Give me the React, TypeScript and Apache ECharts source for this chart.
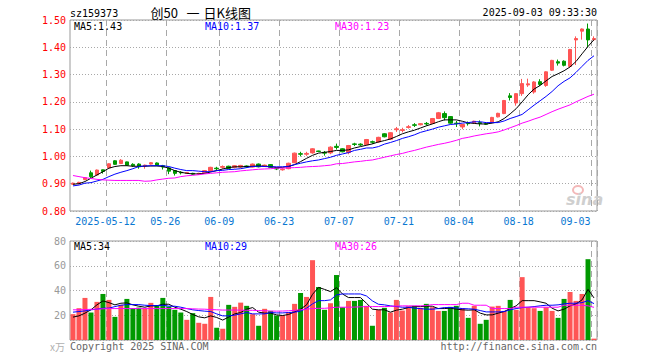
import React, { useEffect, useRef } from "react";
import * as echarts from "echarts";

const dates: string[] = [
  "2025-04-29","2025-04-30","2025-05-06","2025-05-07","2025-05-08","2025-05-09","2025-05-12","2025-05-13","2025-05-14","2025-05-15",
  "2025-05-16","2025-05-19","2025-05-20","2025-05-21","2025-05-22","2025-05-23","2025-05-26","2025-05-27","2025-05-28","2025-05-29",
  "2025-05-30","2025-06-03","2025-06-04","2025-06-05","2025-06-06","2025-06-09","2025-06-10","2025-06-11","2025-06-12","2025-06-13",
  "2025-06-16","2025-06-17","2025-06-18","2025-06-19","2025-06-20","2025-06-23","2025-06-24","2025-06-25","2025-06-26","2025-06-27",
  "2025-06-30","2025-07-01","2025-07-02","2025-07-03","2025-07-04","2025-07-07","2025-07-08","2025-07-09","2025-07-10","2025-07-11",
  "2025-07-14","2025-07-15","2025-07-16","2025-07-17","2025-07-18","2025-07-21","2025-07-22","2025-07-23","2025-07-24","2025-07-25",
  "2025-07-28","2025-07-29","2025-07-30","2025-07-31","2025-08-01","2025-08-04","2025-08-05","2025-08-06","2025-08-07","2025-08-08",
  "2025-08-11","2025-08-12","2025-08-13","2025-08-14","2025-08-15","2025-08-18","2025-08-19","2025-08-20","2025-08-21","2025-08-22",
  "2025-08-25","2025-08-26","2025-08-27","2025-08-28","2025-08-29","2025-09-01","2025-09-02","2025-09-03",
];

const openP: number[] = [
  0.898,0.900,0.915,0.940,0.932,0.951,0.958,0.984,0.974,0.980,
  0.971,0.972,0.965,0.972,0.976,0.966,0.958,0.948,0.942,0.938,
  0.938,0.935,0.940,0.947,0.957,0.960,0.964,0.960,0.961,0.965,
  0.961,0.972,0.964,0.970,0.956,0.951,0.955,0.977,1.010,1.008,
  1.013,1.020,1.015,1.013,1.037,1.028,1.014,1.046,1.045,1.043,
  1.054,1.053,1.083,1.063,1.098,1.095,1.106,1.116,1.116,1.121,
  1.121,1.139,1.157,1.146,1.122,1.108,1.122,1.123,1.124,1.120,
  1.125,1.145,1.157,1.222,1.196,1.230,1.262,1.236,1.274,1.260,
  1.316,1.347,1.349,1.330,1.427,1.459,1.467,1.428,
];
const closeP: number[] = [
  0.902,0.905,0.922,0.926,0.950,0.945,0.973,0.971,0.986,0.968,
  0.966,0.962,0.968,0.977,0.967,0.961,0.946,0.938,0.940,0.941,
  0.935,0.938,0.948,0.960,0.955,0.963,0.956,0.966,0.967,0.962,
  0.972,0.962,0.968,0.960,0.954,0.953,0.975,1.012,1.008,1.011,
  1.028,1.018,1.012,1.034,1.033,1.017,1.040,1.044,1.042,1.062,
  1.052,1.070,1.072,1.087,1.101,1.098,1.109,1.114,1.120,1.119,
  1.139,1.160,1.142,1.122,1.120,1.117,1.120,1.129,1.121,1.118,
  1.143,1.158,1.205,1.216,1.230,1.267,1.266,1.273,1.264,1.310,
  1.352,1.342,1.334,1.392,1.432,1.467,1.427,1.432,
];
const lowP: number[] = [
  0.896,0.898,0.913,0.918,0.930,0.937,0.955,0.969,0.972,0.966,
  0.962,0.955,0.955,0.970,0.965,0.952,0.935,0.930,0.934,0.936,
  0.932,0.933,0.938,0.945,0.948,0.955,0.954,0.956,0.958,0.958,
  0.959,0.960,0.962,0.958,0.950,0.948,0.953,0.975,1.000,1.002,
  1.010,1.016,1.003,1.008,1.025,1.015,1.008,1.038,1.038,1.040,
  1.046,1.050,1.070,1.060,1.090,1.088,1.102,1.108,1.114,1.113,
  1.119,1.137,1.132,1.120,1.108,1.100,1.113,1.121,1.110,1.116,
  1.123,1.143,1.155,1.205,1.186,1.222,1.255,1.230,1.258,1.255,
  1.313,1.333,1.330,1.326,1.335,1.428,1.400,1.423,
];
const highP: number[] = [
  0.904,0.907,0.924,0.948,0.952,0.952,0.975,0.986,0.990,0.981,
  0.975,0.975,0.970,0.979,0.978,0.969,0.960,0.950,0.946,0.943,
  0.940,0.940,0.950,0.962,0.962,0.967,0.966,0.968,0.969,0.967,
  0.974,0.974,0.970,0.972,0.960,0.957,0.977,1.014,1.017,1.017,
  1.030,1.021,1.020,1.037,1.047,1.030,1.042,1.050,1.048,1.064,
  1.058,1.072,1.085,1.089,1.108,1.105,1.115,1.122,1.122,1.126,
  1.141,1.163,1.165,1.148,1.130,1.119,1.128,1.131,1.132,1.122,
  1.145,1.160,1.207,1.232,1.232,1.284,1.285,1.276,1.283,1.312,
  1.354,1.355,1.352,1.394,1.440,1.469,1.487,1.440,
];

const priceMA5: number[] = [
  0.898,0.900,0.908,0.920,0.932,0.944,0.957,0.963,0.966,0.966,
  0.964,0.964,0.964,0.965,0.965,0.963,0.957,0.948,0.942,0.938,
  0.936,0.936,0.938,0.943,0.948,0.954,0.959,0.962,0.962,0.963,
  0.964,0.965,0.964,0.963,0.959,0.960,0.963,0.970,0.981,0.993,
  1.004,1.012,1.015,1.018,1.022,1.022,1.024,1.031,1.036,1.041,
  1.046,1.053,1.058,1.064,1.073,1.083,1.090,1.096,1.104,1.112,
  1.119,1.127,1.134,1.134,1.134,1.129,1.123,1.121,1.119,1.119,
  1.122,1.127,1.139,1.156,1.175,1.200,1.226,1.247,1.260,1.277,
  1.293,1.303,1.314,1.328,1.348,1.376,1.403,1.428,
];
const priceMA10: number[] = [
  0.892,0.895,0.902,0.904,0.910,0.916,0.926,0.935,0.942,0.948,
  0.955,0.963,0.965,0.966,0.966,0.966,0.963,0.957,0.952,0.948,
  0.948,0.946,0.944,0.944,0.948,0.949,0.952,0.953,0.955,0.959,
  0.963,0.964,0.963,0.962,0.962,0.962,0.964,0.970,0.975,0.980,
  0.984,0.987,0.992,0.997,1.004,1.009,1.014,1.022,1.026,1.031,
  1.031,1.036,1.045,1.051,1.058,1.066,1.072,1.079,1.088,1.094,
  1.100,1.107,1.112,1.117,1.119,1.122,1.124,1.127,1.127,1.124,
  1.124,1.124,1.130,1.139,1.146,1.154,1.171,1.188,1.204,1.220,
  1.238,1.259,1.275,1.288,1.308,1.330,1.352,1.369,
];
const priceMA30: number[] = [
  0.930,0.926,0.922,0.919,0.916,0.914,0.913,0.912,0.912,0.912,
  0.912,0.912,0.909,0.910,0.914,0.917,0.920,0.921,0.926,0.929,
  0.931,0.933,0.936,0.938,0.940,0.942,0.943,0.944,0.947,0.949,
  0.951,0.953,0.954,0.955,0.957,0.957,0.958,0.959,0.960,0.962,
  0.963,0.964,0.966,0.968,0.973,0.974,0.977,0.980,0.982,0.985,
  0.987,0.992,0.997,1.002,1.007,1.011,1.017,1.022,1.028,1.034,
  1.039,1.044,1.048,1.053,1.059,1.066,1.070,1.075,1.079,1.083,
  1.086,1.090,1.097,1.105,1.113,1.122,1.129,1.137,1.144,1.154,
  1.164,1.173,1.181,1.189,1.200,1.210,1.220,1.228,
];

const volume: number[] = [
  20.9,25.7,34.0,22.2,30.8,37.2,32.4,18.7,28.4,33.2,
  25.7,26.2,25.2,30.0,28.1,34.0,27.0,24.4,22.2,16.3,
  21.7,13.9,13.1,34.8,9.9,9.1,28.4,26.8,30.2,27.6,
  20.9,11.5,25.2,23.5,19.8,20.1,22.5,29.2,38.0,34.8,
  64.5,42.8,24.4,29.7,52.5,26.5,31.6,31.6,32.4,27.6,
  11.5,24.4,26.0,22.2,32.4,23.8,27.3,27.6,26.0,29.2,
  26.5,23.5,23.5,26.8,27.6,25.7,17.9,27.6,13.1,16.3,
  27.0,27.6,23.5,32.4,24.4,50.8,26.5,25.7,23.5,26.5,
  23.5,17.9,33.2,38.8,31.6,37.2,65.3,1.1,
];
const volMA5: number[] = [
  18.5,19.5,21.7,24.4,28.4,31.6,30.2,28.4,29.7,30.0,
  28.4,27.3,26.5,27.6,27.6,28.9,28.9,26.5,24.9,23.0,
  20.6,18.7,17.9,19.5,18.2,16.1,18.5,21.1,22.2,24.9,
  26.2,22.5,21.7,21.7,20.3,19.8,20.6,22.7,24.9,28.4,
  36.9,42.5,40.9,39.1,42.3,37.2,34.3,34.3,34.3,29.7,
  24.9,24.4,24.4,22.5,24.1,24.9,26.2,27.0,27.0,27.3,
  27.3,25.4,25.4,25.7,24.9,24.4,24.1,24.4,21.7,20.3,
  20.3,21.7,23.0,25.4,27.6,31.8,31.8,31.8,30.8,29.7,
  25.7,23.5,24.9,27.6,29.2,32.4,40.9,34.0,
];
const volMA10: number[] = [
  22.5,23.0,23.5,24.4,24.9,25.7,25.7,27.0,28.1,28.6,
  28.6,28.6,28.1,27.8,27.8,28.1,27.3,27.3,26.5,25.4,
  24.4,23.8,23.3,23.0,21.1,19.5,19.5,20.1,21.1,22.2,
  21.1,21.1,21.1,22.2,21.9,21.9,22.2,22.5,23.3,25.7,
  29.2,31.8,31.8,32.4,36.4,37.2,37.2,37.2,37.2,35.6,
  31.6,28.9,28.4,27.6,27.0,26.5,26.5,25.7,25.4,24.9,
  24.9,25.4,26.2,26.2,26.0,25.4,25.2,24.9,23.8,22.7,
  22.7,22.7,23.0,24.4,25.4,26.2,26.5,27.0,27.6,28.1,
  28.1,28.4,29.2,29.7,29.7,30.2,31.8,29.4,
];
const volMA30: number[] = [
  24.4,24.4,24.6,24.8,24.9,25.2,25.4,25.4,25.4,25.4,
  25.4,25.4,25.4,25.4,25.4,25.4,25.4,25.4,25.4,25.4,
  25.2,25.0,24.9,24.6,24.4,24.2,24.2,24.2,24.1,24.0,
  24.0,23.8,23.6,23.4,23.3,23.4,23.6,24.0,24.4,24.9,
  25.4,25.6,25.6,26.0,26.5,26.5,26.5,26.6,26.8,27.0,
  27.0,27.0,27.0,27.2,27.4,27.6,27.6,27.6,27.6,27.8,
  28.6,28.6,28.6,28.6,28.6,29.7,29.7,28.1,28.1,28.1,
  25.4,25.4,25.4,25.4,26.5,26.5,26.5,26.5,26.5,26.5,
  26.5,26.5,28.1,28.1,28.1,28.1,27.6,26.4,
];

const tickDates: string[] = [
  "2025-05-12","2025-05-26","2025-06-09","2025-06-23","2025-07-07",
  "2025-07-21","2025-08-04","2025-08-18","2025-09-03",
];

const MONO = '"DejaVu Sans Mono", "Liberation Mono", monospace';
const CJK = '"Noto Sans CJK SC", sans-serif';
const RED = "#ff5555";
const GREEN = "#009900";
const GRID_LINE = "#a8a8a8";

export default function App() {
  const ref = useRef<HTMLDivElement>(null);

  useEffect(() => {
    document.body.style.margin = "0";
    if (!ref.current) return;
    const chart = echarts.init(ref.current, undefined, { renderer: "svg" });

    const tickIdx = new Set(tickDates.map((d) => dates.indexOf(d)));
    const lastTick = dates.indexOf(tickDates[tickDates.length - 1]);
    const firstTick = dates.indexOf(tickDates[0]);

    const candleData = dates.map((_, i) => [openP[i], closeP[i], lowP[i], highP[i]]);
    const volData = volume.map((v, i) => ({
      value: v,
      itemStyle: { color: closeP[i] >= openP[i] ? RED : GREEN },
    }));

    const splitV = {
      show: true,
      interval: (index: number) => tickIdx.has(index),
      lineStyle: { color: GRID_LINE, type: [6, 4], width: 1 },
    };
    const splitH = {
      show: true,
      lineStyle: { color: GRID_LINE, type: [1, 2], width: 1 },
    };

    const lineS = (name: string, data: number[], color: string, axis: number) => ({
      name,
      type: "line",
      xAxisIndex: axis,
      yAxisIndex: axis,
      data,
      symbol: "none",
      silent: true,
      lineStyle: { color, width: 1 },
    });

    const txt = (text: string, x: number, y: number, fill: string, extra: any = {}) => ({
      type: "text",
      x,
      y,
      silent: true,
      style: {
        text,
        fill,
        font: `10px ${MONO}`,
        align: "left",
        verticalAlign: "middle",
        ...extra,
      },
    });

    const lastPM5 = priceMA5[priceMA5.length - 1].toFixed(2);
    const lastPM10 = priceMA10[priceMA10.length - 1].toFixed(2);
    const lastPM30 = priceMA30[priceMA30.length - 1].toFixed(2);
    const lastVM5 = Math.floor(volMA5[volMA5.length - 1]);
    const lastVM10 = Math.floor(volMA10[volMA10.length - 1]);
    const lastVM30 = Math.floor(volMA30[volMA30.length - 1]);

    chart.setOption({
      animation: false,
      backgroundColor: "#ffffff",
      grid: [
        { left: 70, top: 20, width: 527, height: 191, show: true, borderColor: "#999", borderWidth: 1, backgroundColor: "transparent" },
        { left: 70, top: 241, width: 527, height: 99, show: true, borderColor: "#999", borderWidth: 1, backgroundColor: "transparent" },
      ],
      xAxis: [
        {
          type: "category",
          gridIndex: 0,
          data: dates,
          boundaryGap: true,
          axisLine: { show: false },
          axisTick: { show: false },
          splitLine: splitV,
          axisLabel: {
            interval: (index: number) => tickIdx.has(index),
            margin: 5,
            color: "#0a78d2",
            fontSize: 10,
            fontFamily: MONO,
            formatter: (v: string) => {
              const i = dates.indexOf(v);
              const t = i === firstTick ? v : v.slice(5);
              return i === lastTick ? `{b|${t}}` : `{a|${t}}`;
            },
            rich: {
              a: { color: "#0a78d2", fontSize: 10, fontFamily: MONO, padding: [0, 7, 0, 0] },
              b: { color: "#0a78d2", fontSize: 10, fontFamily: MONO, padding: [0, 37, 0, 0] },
            },
          },
        },
        {
          type: "category",
          gridIndex: 1,
          data: dates,
          boundaryGap: true,
          axisLine: { show: false },
          axisTick: { show: false },
          axisLabel: { show: false },
          splitLine: splitV,
        },
      ],
      yAxis: [
        {
          type: "value",
          gridIndex: 0,
          min: 0.8,
          max: 1.5,
          interval: 0.1,
          axisLine: { show: false },
          axisTick: { show: false },
          splitLine: splitH,
          axisLabel: {
            color: "#ff0000",
            fontSize: 10,
            fontFamily: MONO,
            margin: 4,
            formatter: (v: number) => v.toFixed(2),
          },
        },
        {
          type: "value",
          gridIndex: 1,
          min: 0,
          max: 80,
          interval: 20,
          axisLine: { show: false },
          axisTick: { show: false },
          splitLine: splitH,
          axisLabel: {
            color: "#999999",
            fontSize: 10,
            fontFamily: MONO,
            margin: 4,
            formatter: (v: number) => (v === 0 ? "" : String(v)),
          },
        },
      ],
      series: [
        {
          name: "K",
          type: "candlestick",
          xAxisIndex: 0,
          yAxisIndex: 0,
          data: candleData,
          barWidth: 4,
          silent: true,
          itemStyle: {
            color: RED,
            color0: GREEN,
            borderColor: RED,
            borderColor0: GREEN,
            borderWidth: 1,
          },
        },
        lineS("MA5", priceMA5, "#000000", 0),
        lineS("MA10", priceMA10, "#0000ff", 0),
        lineS("MA30", priceMA30, "#ff00ff", 0),
        {
          name: "VOL",
          type: "bar",
          xAxisIndex: 1,
          yAxisIndex: 1,
          data: volData,
          barWidth: 5,
          silent: true,
        },
        lineS("VMA5", volMA5, "#000000", 1),
        lineS("VMA10", volMA10, "#0000ff", 1),
        lineS("VMA30", volMA30, "#ff00ff", 1),
      ],
      graphic: [
        txt("sz159373", 70, 13, "#000000"),
        txt("创50", 150.5, 12.5, "#000000", { font: `13px ${CJK}` }),
        txt("一", 186.5, 12.5, "#000000", { font: `13px ${CJK}` }),
        txt("日K线图", 203.5, 12.5, "#000000", { font: `13px ${CJK}` }),
        txt("2025-09-03 09:33:30", 597, 12.5, "#000000", { align: "right" }),
        txt(`MA5:${lastPM5}`, 74, 26, "#000000"),
        txt(`MA10:${lastPM10}`, 205, 26, "#0000ff"),
        txt(`MA30:${lastPM30}`, 335, 26, "#ff00ff"),
        txt(`MA5:${lastVM5}`, 74, 246, "#000000"),
        txt(`MA10:${lastVM10}`, 205, 246, "#0000ff"),
        txt(`MA30:${lastVM30}`, 335, 246, "#ff00ff"),
        txt("Copyright 2025 SINA.COM", 70, 346, "#666666"),
        txt("http://finance.sina.com.cn", 597, 346, "#666666", { align: "right" }),
        txt("x万", 65, 346, "#b0b0b0", { align: "right", font: `10px ${CJK}` }),
        {
          type: "ellipse",
          silent: true,
          shape: { cx: 578, cy: 190, rx: 5, ry: 4 },
          style: { fill: "none", stroke: "#f3b8b8", lineWidth: 2 },
        },
        {
          type: "text",
          x: 566,
          y: 199,
          silent: true,
          style: {
            text: "sina",
            fill: "#cfcfcf",
            font: 'italic bold 16px "DejaVu Sans", sans-serif',
            align: "left",
            verticalAlign: "middle",
          },
        },
      ],
    });

    return () => chart.dispose();
  }, []);

  return <div ref={ref} style={{ width: 660, height: 360, background: "#fff" }} />;
}
